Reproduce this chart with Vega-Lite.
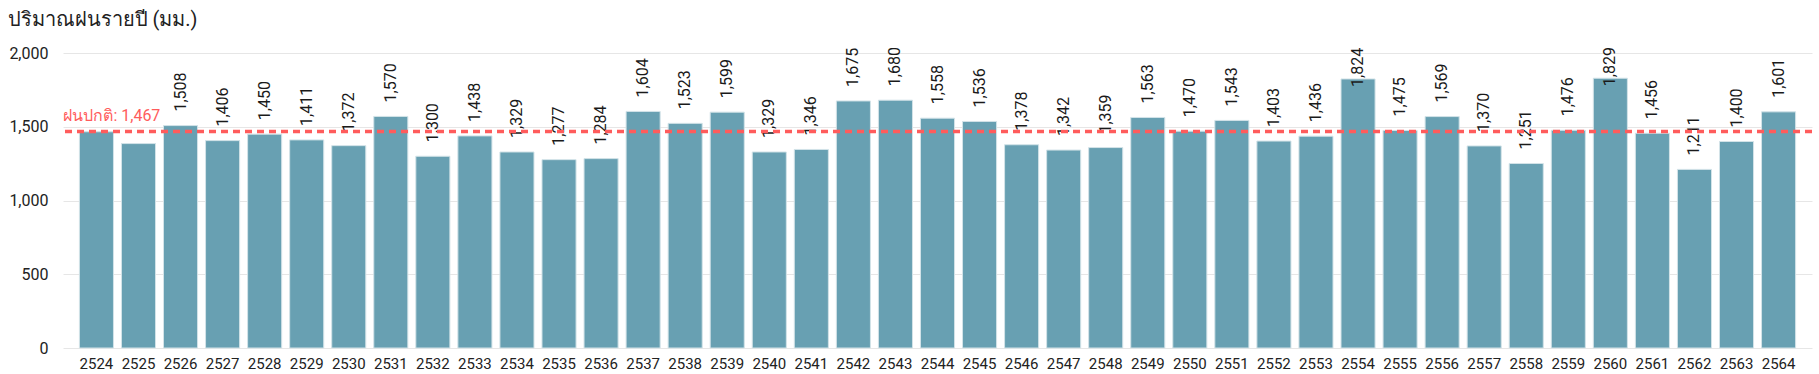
{
  "$schema": "https://vega.github.io/schema/vega-lite/v6.json",
  "width": 1749,
  "height": 295,
  "autosize": {"type": "none"},
  "padding": {"left": 63, "top": 53, "right": 7, "bottom": 26},
  "background": "white",
  "config": {"font": "Roboto", "view": {"stroke": null}},
  "datasets": {
    "rain": [
      {"year": 2524, "rain": 1466}, {"year": 2525, "rain": 1386}, {"year": 2526, "rain": 1508},
      {"year": 2527, "rain": 1406}, {"year": 2528, "rain": 1450}, {"year": 2529, "rain": 1411},
      {"year": 2530, "rain": 1372}, {"year": 2531, "rain": 1570}, {"year": 2532, "rain": 1300},
      {"year": 2533, "rain": 1438}, {"year": 2534, "rain": 1329}, {"year": 2535, "rain": 1277},
      {"year": 2536, "rain": 1284}, {"year": 2537, "rain": 1604}, {"year": 2538, "rain": 1523},
      {"year": 2539, "rain": 1599}, {"year": 2540, "rain": 1329}, {"year": 2541, "rain": 1346},
      {"year": 2542, "rain": 1675}, {"year": 2543, "rain": 1680}, {"year": 2544, "rain": 1558},
      {"year": 2545, "rain": 1536}, {"year": 2546, "rain": 1378}, {"year": 2547, "rain": 1342},
      {"year": 2548, "rain": 1359}, {"year": 2549, "rain": 1563}, {"year": 2550, "rain": 1470},
      {"year": 2551, "rain": 1543}, {"year": 2552, "rain": 1403}, {"year": 2553, "rain": 1436},
      {"year": 2554, "rain": 1824}, {"year": 2555, "rain": 1475}, {"year": 2556, "rain": 1569},
      {"year": 2557, "rain": 1370}, {"year": 2558, "rain": 1251}, {"year": 2559, "rain": 1476},
      {"year": 2560, "rain": 1829}, {"year": 2561, "rain": 1456}, {"year": 2562, "rain": 1211},
      {"year": 2563, "rain": 1400}, {"year": 2564, "rain": 1601}
    ],
    "normal": [{"label": "ฝนปกติ: 1,467", "normal": 1467}]
  },
  "layer": [
    {
      "data": {"name": "rain"},
      "mark": {"type": "bar", "color": "#68a0b2", "stroke": "#d3e3e8", "strokeWidth": 1},
      "encoding": {
        "x": {
          "field": "year", "type": "ordinal",
          "scale": {"paddingInner": 0.19, "paddingOuter": 0.39},
          "axis": {"title": null, "labelAngle": 0, "ticks": false, "domain": false, "grid": false,
                   "labelFontSize": 15, "labelColor": "#222222", "labelPadding": 8}
        },
        "y": {
          "field": "rain", "type": "quantitative",
          "scale": {"domain": [0, 2000]},
          "axis": {"values": [0, 500, 1000, 1500, 2000], "format": ",.0f", "ticks": false, "domain": false,
                   "labelFontSize": 16, "labelColor": "#222222", "labelPadding": 15, "gridColor": "#e6e6e6",
                   "title": "ปริมาณฝนรายปี (มม.)", "titleAngle": 0, "titleX": -56, "titleY": -28,
                   "titleAlign": "left", "titleBaseline": "alphabetic", "titleFontSize": 20,
                   "titleFontWeight": "normal", "titleColor": "#222222"}
        }
      }
    },
    {
      "data": {"name": "rain"},
      "transform": [{"filter": "datum.year > 2525 && datum.rain <= 1700"}],
      "mark": {"type": "text", "angle": -90, "align": "left", "baseline": "middle", "dx": 14,
               "fontSize": 16, "color": "#1a1a1a"},
      "encoding": {
        "x": {"field": "year", "type": "ordinal"},
        "y": {"field": "rain", "type": "quantitative"},
        "text": {"field": "rain", "type": "quantitative", "format": ",.0f"}
      }
    },
    {
      "data": {"name": "rain"},
      "transform": [{"filter": "datum.rain > 1700"}],
      "mark": {"type": "text", "angle": -90, "align": "left", "baseline": "middle", "dx": -8,
               "fontSize": 16, "color": "#1a1a1a"},
      "encoding": {
        "x": {"field": "year", "type": "ordinal"},
        "y": {"field": "rain", "type": "quantitative"},
        "text": {"field": "rain", "type": "quantitative", "format": ",.0f"}
      }
    },
    {
      "data": {"name": "normal"},
      "mark": {"type": "rule", "color": "#ff5c5c", "strokeWidth": 3.5, "strokeDash": [7, 5]},
      "encoding": {"y": {"field": "normal", "type": "quantitative"}}
    },
    {
      "data": {"name": "normal"},
      "mark": {"type": "text", "align": "left", "baseline": "alphabetic", "dx": -16, "dy": -11,
               "fontSize": 16, "color": "#ff5c5c"},
      "encoding": {
        "x": {"datum": 2524, "type": "ordinal", "bandPosition": 0},
        "y": {"field": "normal", "type": "quantitative"},
        "text": {"field": "label"}
      }
    }
  ]
}
